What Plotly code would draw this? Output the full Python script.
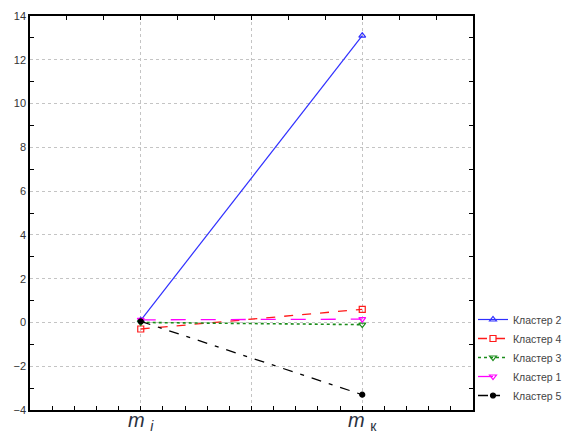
import plotly.graph_objects as go

categories = ["<i>m</i> <sub><i>i</i></sub>", "<i>m</i> <sub>к</sub>"]
series_names = ["Кластер 2", "Кластер 4", "Кластер 3", "Кластер 1", "Кластер 5"]
klaster2 = [0.1, 13.1]
klaster4 = [-0.3, 0.6]
klaster3 = [0.0, -0.1]
klaster1 = [0.12, 0.15]
klaster5 = [0.05, -3.3]

values = [klaster2, klaster4, klaster3, klaster1, klaster5]
colors = ["#2f2fff", "#ff1a1a", "#1a8c1a", "#ff00ff", "#000000"]
dashes = ["solid", "dash", "dot", "longdash", "10px,8px,4px,8px"]
widths = [1.2, 1.3, 1.6, 1.3, 1.3]
symbols = ["triangle-up-open", "square-open", "triangle-down-open", "triangle-down-open", "circle"]

x_idx = list(range(len(categories)))

fig = go.Figure()
for name, vals, c, d, w, s in zip(series_names, values, colors, dashes, widths, symbols):
    fig.add_trace(go.Scatter(
        x=x_idx, y=vals, name=name, mode="lines+markers",
        line=dict(color=c, width=w, dash=d),
        marker=dict(symbol=s, size=6 if s != "circle" else 5, color=c, line=dict(color=c, width=1.2)),
    ))

grid_col = "#c4c4c4"
fig.update_layout(
    width=567, height=425,
    margin=dict(l=22, r=100, t=8, b=23),
    paper_bgcolor="white", plot_bgcolor="white",
    font=dict(family="Liberation Sans, Arial", size=11, color="#333"),
    showlegend=True,
    legend=dict(x=1.0, xanchor="left", y=0, yanchor="bottom",
                font=dict(size=10.5, color="#444"), bgcolor="rgba(0,0,0,0)",
                tracegroupgap=0, itemwidth=30, borderwidth=0),
    xaxis=dict(
        range=[-0.5, 1.5], automargin=False,
        tickmode="array", tickvals=[0, 0.5, 1], ticktext=[categories[0], " ", categories[1]],
        ticks="inside", ticklen=4, tickcolor="black",
        tickfont=dict(size=20, color="#2b3140"), ticklabelstandoff=-9,
        showline=True, linecolor="black", linewidth=1.5, mirror=True,
        showgrid=True, gridcolor=grid_col, griddash="dot", gridwidth=1,
        zeroline=False,
        minor=dict(dtick=0.1, tick0=0, ticks="inside", ticklen=4, tickcolor="black", showgrid=False),
    ),
    xaxis2=dict(
        overlaying="x", side="top", range=[0, 12], dtick=1, tick0=0, automargin=False,
        ticks="inside", ticklen=4, tickcolor="black", showticklabels=False,
        showgrid=False, zeroline=False, showline=False,
    ),
    yaxis=dict(
        range=[-4, 14], dtick=2, tick0=0, automargin=False,
        ticks="", tickfont=dict(size=11, color="#333"),
        showline=True, linecolor="black", linewidth=1.5, mirror="ticks",
        showgrid=True, gridcolor=grid_col, griddash="dot", gridwidth=1,
        zeroline=False,
        minor=dict(dtick=1, tick0=0, ticks="inside", ticklen=4, tickcolor="black", showgrid=False),
    ),
)
# invisible trace to anchor top axis
fig.add_trace(go.Scatter(x=[0], y=[0], xaxis="x2", yaxis="y", mode="markers",
                         marker=dict(opacity=0), showlegend=False, hoverinfo="skip"))

fig.write_html("out.html")
